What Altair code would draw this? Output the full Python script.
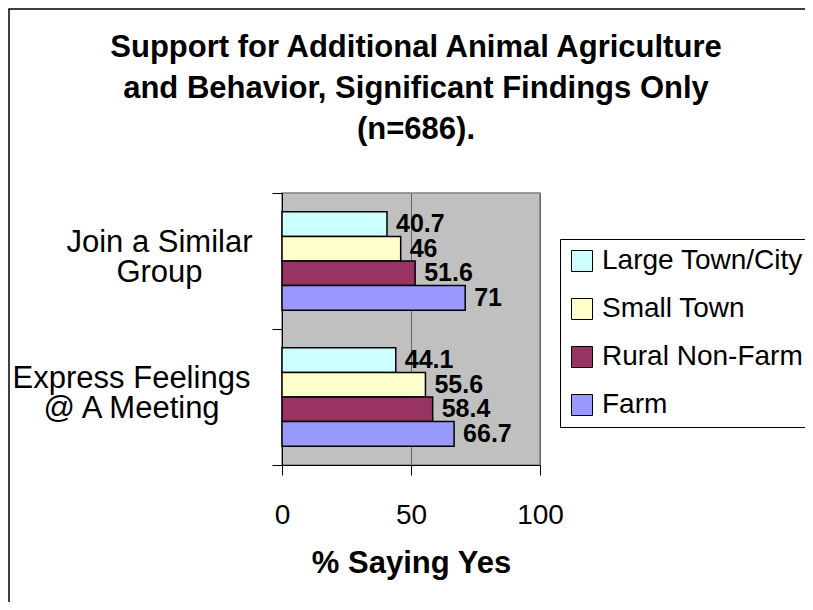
import altair as alt
import pandas as pd

questions = ["Join a Similar Group", "Express Feelings @ A Meeting"]
question_lines = [["Join a Similar", "Group"], ["Express Feelings", "@ A Meeting"]]
areas = ["Large Town/City", "Small Town", "Rural Non-Farm", "Farm"]
colors = ["#CCFFFF", "#FFFFCC", "#993366", "#9999FF"]
join_vals = [40.7, 46, 51.6, 71]
express_vals = [44.1, 55.6, 58.4, 66.7]
x_ticks = [0, 50, 100]
title_lines = ["Support for Additional Animal Agriculture",
               "and Behavior, Significant Findings Only",
               "(n=686)."]

rows = []
for q, vals in zip(questions, [join_vals, express_vals]):
    for a, v in zip(areas, vals):
        rows.append({"question": q, "area": a, "value": v})
df = pd.DataFrame(rows)

FONT = "Liberation Sans"

label_expr = ("datum.label == '%s' ? ['%s', '%s'] : datum.label == '%s' ? ['%s', '%s'] : ''" % (
    questions[0], question_lines[0][0], question_lines[0][1],
    questions[1], question_lines[1][0], question_lines[1][1]))

base = alt.Chart(df).encode(
    y=alt.Y("question:N", sort=questions,
            scale=alt.Scale(paddingInner=0, paddingOuter=0),
            axis=alt.Axis(title=None, tickBand="extent", tickSize=10,
                          tickColor="black", domainColor="black",
                          labelFont=FONT, labelFontSize=31, labelColor="black",
                          labelAlign="center", labelBaseline="middle",
                          labelLineHeight=30, labelLimit=400, labelOffset=-19,
                          labelExpr=label_expr,
                          labelPadding={"condition": {"test": "datum.value == '%s'" % questions[0], "value": 113},
                                        "value": 141},
                          grid=False)),
    yOffset=alt.YOffset("area:N", sort=areas,
                        scale=alt.Scale(paddingInner=0, paddingOuter=0.765)),
    x=alt.X("value:Q", scale=alt.Scale(domain=[0, 100]),
            axis=alt.Axis(values=x_ticks, tickSize=10, tickColor="black",
                          domainColor="black", labelFont=FONT, labelFontSize=28,
                          labelColor="black", labelPadding=26, labelFlush=False,
                          gridColor="#666666", gridWidth=1,
                          title="% Saying Yes", titleFont=FONT, titleFontSize=31,
                          titleFontWeight="bold", titleColor="black", titlePadding=19)),
)

bars = base.mark_bar(stroke="black", strokeWidth=1.5).encode(
    color=alt.Color("area:N", sort=areas,
                    scale=alt.Scale(domain=areas, range=colors),
                    legend=alt.Legend(orient="none", legendX=278, legendY=46,
                                      title=None, symbolType="square", symbolSize=441,
                                      symbolStrokeColor="black", symbolStrokeWidth=1,
                                      symbolOpacity=1,
                                      labelFont=FONT, labelFontSize=28, labelColor="black",
                                      labelOffset=6, rowPadding=20, padding=8,
                                      strokeColor="black", fillColor="white",
                                      labelLimit=400))
)

labels = base.mark_text(align="left", baseline="middle", dx=9, font=FONT,
                        fontSize=25, fontWeight="bold", color="black").encode(
    text=alt.Text("value:Q", format=".3~g")
)

frame = alt.Chart(pd.DataFrame({"k": [0]})).mark_rect(
    filled=False, stroke="black", strokeWidth=1.5
).encode(x=alt.value(-273), x2=alt.value(700), y=alt.value(-184), y2=alt.value(700))

chart = alt.layer(frame, bars, labels).properties(
    width=258, height=272,
    title=alt.TitleParams(text=title_lines, font=FONT, fontSize=31, fontWeight="bold",
                          color="black", lineHeight=41, anchor="middle", frame="group",
                          offset=-138, dx=5),
    autosize=alt.AutoSizeParams(type="none"),
    padding={"left": 274, "top": 185, "right": 265, "bottom": 137},
    background="white",
).configure_view(fill="#C0C0C0", stroke="#808080", strokeWidth=1.5)

chart.save("out.html", embed_options={"renderer": "svg", "actions": False})
